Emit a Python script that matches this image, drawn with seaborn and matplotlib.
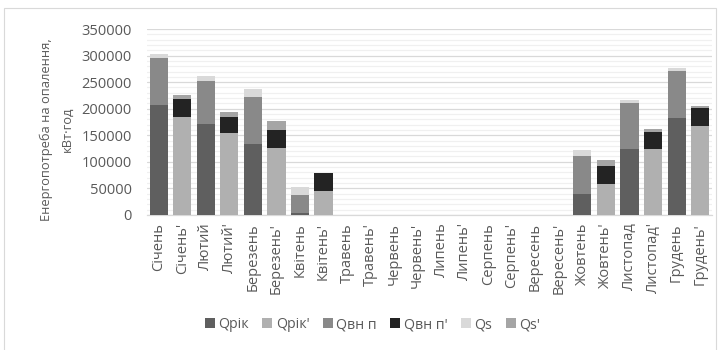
import numpy as np
import pandas as pd
import seaborn as sns
import matplotlib
matplotlib.use("Agg")
import matplotlib.pyplot as plt
from matplotlib.patches import Patch, Rectangle
from matplotlib.ticker import MultipleLocator

months = ["Січень", "Лютий", "Березень", "Квітень", "Травень", "Червень",
          "Липень", "Серпень", "Вересень", "Жовтень", "Листопад", "Грудень"]

# heating demand components, kWh (base case and primed case)
q_rik = [207000, 172000, 134000, 4500, 0, 0, 0, 0, 0, 40000, 124000, 183000]
q_vn = [89000, 81000, 88000, 33000, 0, 0, 0, 0, 0, 71000, 87000, 88000]
q_s = [7000, 9500, 15000, 15000, 0, 0, 0, 0, 0, 11000, 6000, 6000]
q_rik_p = [185000, 154000, 126000, 45000, 0, 0, 0, 0, 0, 58000, 125000, 168000]
q_vn_p = [34000, 30000, 34000, 33000, 0, 0, 0, 0, 0, 34000, 32000, 33000]
q_s_p = [6000, 10500, 16000, 0, 0, 0, 0, 0, 0, 11000, 5500, 5000]

series_names = ["Qрік", "Qрік'", "Qвн п", "Qвн п'", "Qs", "Qs'"]
series_colors = ["#5f5f5f", "#b0b0b0", "#898989", "#232323", "#d9d9d9", "#a5a5a5"]

categories = []
for m in months:
    categories += [m, m + "'"]

def on_base(vals):
    out = []
    for v in vals:
        out += [v, 0]
    return out

def on_primed(vals):
    out = []
    for v in vals:
        out += [0, v]
    return out

df = pd.DataFrame({
    "cat": categories,
    "Qрік": on_base(q_rik),
    "Qрік'": on_primed(q_rik_p),
    "Qвн п": on_base(q_vn),
    "Qвн п'": on_primed(q_vn_p),
    "Qs": on_base(q_s),
    "Qs'": on_primed(q_s_p),
})

sns.set_theme(style="white")
plt.rcParams["font.family"] = ["Open Sans", "DejaVu Sans"]

fig = plt.figure(figsize=(7.22, 3.5), dpi=100)
ax = fig.add_axes([0.2036, 0.386, 0.7824, 0.531])

# stacked bars: draw cumulative totals from the top layer down
cum = df[series_names].cumsum(axis=1)
for name, color in reversed(list(zip(series_names, series_colors))):
    sns.barplot(x=df["cat"], y=cum[name], color=color, saturation=1,
                width=0.77, ax=ax, order=categories, zorder=3,
                linewidth=0, edgecolor="none")

ax.set_ylim(0, 350000)
ax.set_xlim(-0.5, len(categories) - 0.5)
ax.yaxis.set_major_locator(MultipleLocator(50000))
ax.yaxis.set_minor_locator(MultipleLocator(10000))
ax.grid(axis="y", which="major", color="#d9d9d9", linewidth=0.9, zorder=0)
ax.grid(axis="y", which="minor", color="#f0f0f0", linewidth=0.9, zorder=0)
ax.set_axisbelow(True)
for s in ["top", "right", "left"]:
    ax.spines[s].set_visible(False)
ax.spines["bottom"].set_color("#d9d9d9")
ax.spines["bottom"].set_linewidth(0.9)

ax.tick_params(axis="y", which="both", length=0, pad=11, labelsize=10.5,
               labelcolor="#595959")
ax.tick_params(axis="x", length=0, pad=6, labelsize=10.5, labelcolor="#595959")
ax.set_xticks(range(len(categories)))
ax.set_xticklabels(categories, rotation=90)
ax.set_yticks(np.arange(0, 350001, 50000))
ax.set_yticklabels([str(v) for v in range(0, 350001, 50000)])
ax.set_xlabel("")
ax.set_ylabel("Енергопотреба на опалення,\nкВт·год", fontsize=9.3,
              color="#595959", linespacing=1.75)
ax.yaxis.set_label_coords(-0.13, 0.46)

handles = [Patch(facecolor=c, edgecolor="none") for c in series_colors]
fig.legend(handles, series_names, loc="center", bbox_to_anchor=(0.516, 0.072),
           ncol=6, frameon=False, fontsize=10.2, handlelength=0.7,
           handleheight=0.7, handletextpad=0.25, columnspacing=0.95,
           labelcolor="#595959")

fig.patches.append(Rectangle((0.0055, -0.01), 0.986, 0.987, transform=fig.transFigure,
                             fill=False, edgecolor="#d9d9d9", linewidth=0.8))

fig.savefig("out.png", dpi=100)
